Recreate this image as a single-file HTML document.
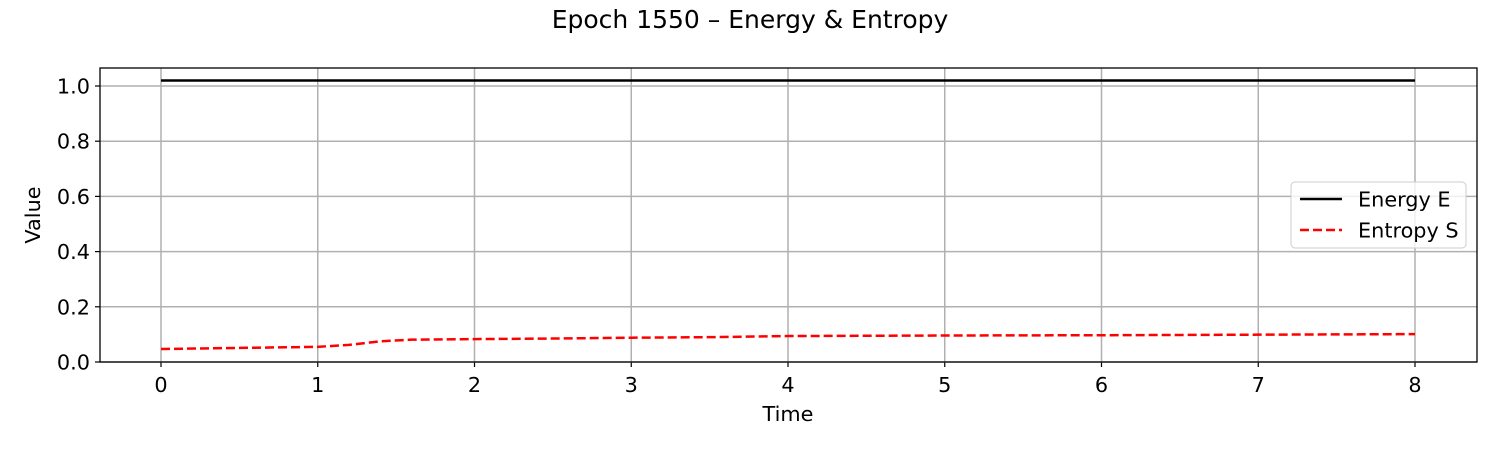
<!DOCTYPE html>
<html><head><meta charset="utf-8"><style>body{margin:0;background:#fff}svg{display:block;font-family:"DejaVu Sans","Liberation Sans",sans-serif}</style></head>
<body>
<svg id="c" width="1500" height="450"></svg>
<script>
const times=[0,0.5,1,1.2,1.4,1.6,2,2.5,3,3.5,4,5,6,7,8];
const energy=[1.02,1.02,1.02,1.02,1.02,1.02,1.02,1.02,1.02,1.02,1.02,1.02,1.02,1.02,1.02];
const entropy=[0.047,0.051,0.055,0.062,0.075,0.081,0.083,0.085,0.088,0.090,0.094,0.096,0.097,0.099,0.101];
const xTicks=[0,1,2,3,4,5,6,7,8];
const yTicks=[0,0.2,0.4,0.6,0.8,1.0];
const NS="http://www.w3.org/2000/svg";
const svg=document.getElementById('c');
const L=100,R=1477,T=68,B=362;
const x=v=>161+v*(1415-161)/8;
const y=v=>362-v*276;
function el(t,a,p){const e=document.createElementNS(NS,t);for(const k in a)e.setAttribute(k,a[k]);(p||svg).appendChild(e);return e;}
const t=el('text',{x:750,y:28,'text-anchor':'middle','font-size':25});t.textContent='Epoch 1550 – Energy & Entropy';

xTicks.forEach(v=>{const g=el('line',{x1:x(v),x2:x(v),y1:T,y2:B,stroke:'#b0b0b0','stroke-width':1.5});

el('line',{x1:x(v),x2:x(v),y1:B,y2:B+5,stroke:'#000','stroke-width':1.2});
const l=el('text',{x:x(v),y:B+30,'text-anchor':'middle','font-size':20.8});l.textContent=v;
});
yTicks.forEach(v=>{const g=el('line',{x1:L,x2:R,y1:y(v),y2:y(v),stroke:'#b0b0b0','stroke-width':1.5});

el('line',{x1:L-5,x2:L,y1:y(v),y2:y(v),stroke:'#000','stroke-width':1.2});
const l=el('text',{x:L-10,y:y(v)+7.5,'text-anchor':'end','font-size':20.8});l.textContent=v.toFixed(1);
});
const pe=el('polyline',{points:times.map((tt,i)=>x(tt)+','+y(energy[i])).join(' '),fill:'none',stroke:'#000','stroke-width':2.5});

const ps=el('polyline',{points:times.map((tt,i)=>x(tt)+','+y(entropy[i])).join(' '),fill:'none',stroke:'#f00','stroke-width':2.5,'stroke-dasharray':'9,4'});

const fr=el('rect',{x:L,y:T,width:R-L,height:B-T,fill:'none',stroke:'#000','stroke-width':1.3});

const xt=el('text',{x:788,y:421,'text-anchor':'middle','font-size':20.8});xt.textContent='Time';

const yt=el('text',{x:40,y:215,'text-anchor':'middle','font-size':20.8,transform:'rotate(-90 40 215)'});yt.textContent='Value';

const lg=el('g',{});
el('rect',{x:1291,y:182,width:175,height:66,rx:4,fill:'#fff','fill-opacity':0.8,stroke:'#ccc'},lg);
el('line',{x1:1300,x2:1342,y1:199,y2:199,stroke:'#000','stroke-width':2.5},lg);
el('line',{x1:1300,x2:1342,y1:230,y2:230,stroke:'#f00','stroke-width':2.5,'stroke-dasharray':'9,4'},lg);
const a=el('text',{x:1358,y:206.5,'font-size':20.8},lg);a.textContent='Energy E';

const b=el('text',{x:1358,y:237.5,'font-size':20.8},lg);b.textContent='Entropy S';

</script>
</body></html>
